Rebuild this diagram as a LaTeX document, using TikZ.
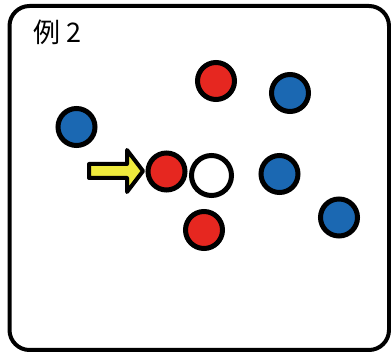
\documentclass[tikz,border=0pt]{standalone}
\usepackage{fontspec}
\newfontfamily\cjk{Noto Sans CJK JP}
\usepackage{tikz}
\usetikzlibrary{positioning}
\definecolor{cred}{HTML}{E62720}
\definecolor{cblue}{HTML}{1B68B2}
\definecolor{cyel}{HTML}{EEEA3C}
\tikzset{
  ball/.style={circle, draw=black, line width=5pt, minimum size=37pt, inner sep=0pt},
  rball/.style={ball, fill=cred},
  bball/.style={ball, fill=cblue},
  wball/.style={ball, fill=white, minimum size=40pt},
  frame/.style={draw=black, line width=4pt, rounded corners=20pt},
  push/.style={draw=black, line width=4pt, fill=cyel, line join=round}
}
\begin{document}
\begin{tikzpicture}[x=1pt, y=-1pt]
\useasboundingbox (0,0) rectangle (391,352);
\draw[frame] (9.5,6) rectangle (389,350);
\node[font=\cjk\fontsize{27}{30}\selectfont, anchor=west] (title) at (30,32) {例 2};
% balls
\node[rball] (r1) at (216,81) {};
\node[bball] (b1) at (290,93) {};
\node[bball] (b2) at (76.5,127) {};
\node[rball] (r2) at (166.5,171.5) {};
\node[wball] (w) at (211.5,175.5) {};
\node[bball] (b3) at (279.5,174) {};
\node[bball] (b4) at (339,217.5) {};
\node[rball] (r3) at (204,230) {};
% arrow
\draw[push] (89,164) -- (127,164) -- (127,150) -- (143,171) -- (127,192) -- (127,178) -- (89,178) -- cycle;
\end{tikzpicture}
\end{document}
